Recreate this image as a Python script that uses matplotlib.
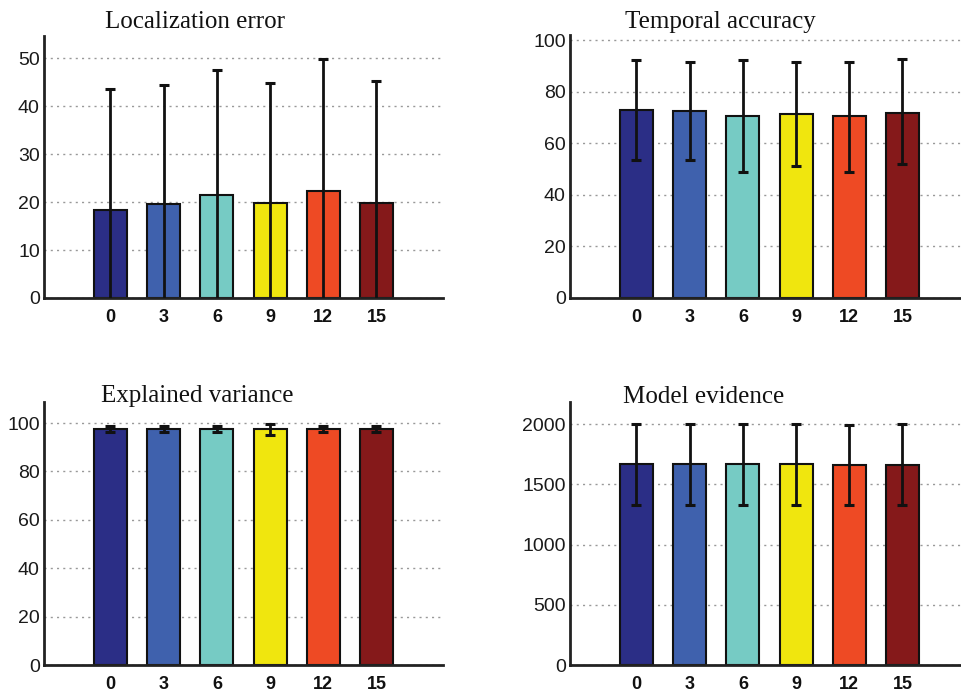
import matplotlib
matplotlib.use("Agg")
import matplotlib.pyplot as plt
import numpy as np

categories = ["0", "3", "6", "9", "12", "15"]
colors = ["#2b2e86", "#3f61ad", "#76cbc4", "#f0e60e", "#ee4a24", "#85191a"]

loc_vals = [18.4, 19.6, 21.5, 19.8, 22.4, 19.8]
loc_err = [25.1, 24.7, 26.1, 25.0, 27.5, 25.5]

temp_vals = [73.1, 72.6, 70.6, 71.3, 70.6, 71.9]
temp_err_lo = [19.7, 19.2, 21.7, 20.1, 21.7, 20.1]
temp_err_hi = [19.1, 18.9, 21.6, 20.4, 21.1, 20.9]

var_vals = [97.5, 97.4, 97.5, 97.4, 97.5, 97.5]
var_err = [1.3, 1.3, 1.3, 2.2, 1.3, 1.3]

ev_vals = [1668, 1668, 1668, 1668, 1660, 1660]
ev_err_lo = [335, 335, 335, 335, 327, 327]
ev_err_hi = [332, 332, 332, 332, 332, 340]

titles = ["Localization error", "Temporal accuracy", "Explained variance", "Model evidence"]

W, H = 962, 694
fig = plt.figure(figsize=(W / 100, H / 100), dpi=100)

def px_axes(x0, y_bottom, y_top, width=399):
    return fig.add_axes([x0 / W, 1 - y_bottom / H, width / W, (y_bottom - y_top) / H])

panels = [
    dict(ax=px_axes(44, 298, 36), vals=loc_vals, err=[loc_err, loc_err], ylim=54.6,
         yticks=[0, 10, 20, 30, 40, 50], title=titles[0], tpos=(195, 28)),
    dict(ax=px_axes(570, 298, 35), vals=temp_vals, err=[temp_err_lo, temp_err_hi], ylim=102,
         yticks=[0, 20, 40, 60, 80, 100], title=titles[1], tpos=(720, 28)),
    dict(ax=px_axes(44, 665, 402), vals=var_vals, err=[var_err, var_err], ylim=108.7,
         yticks=[0, 20, 40, 60, 80, 100], title=titles[2], tpos=(197, 402)),
    dict(ax=px_axes(570, 665, 402), vals=ev_vals, err=[ev_err_lo, ev_err_hi], ylim=2185,
         yticks=[0, 500, 1000, 1500, 2000], title=titles[3], tpos=(704, 403)),
]

x = np.arange(1, len(categories) + 1)
for p in panels:
    ax = p["ax"]
    ax.bar(x, p["vals"], width=0.62, color=colors, edgecolor="#111111", linewidth=1.5, zorder=2)
    ax.errorbar(x, p["vals"], yerr=p["err"], fmt="none", ecolor="#111111", elinewidth=2,
                capsize=3.5, capthick=2.2, zorder=3)
    ax.set_xlim(-0.25, 7.25)
    ax.set_ylim(0, p["ylim"])
    ax.set_xticks(x)
    ax.set_xticklabels(categories, fontsize=13, fontweight="bold", family="Liberation Sans",
                       color="#111111")
    ax.set_yticks(p["yticks"])
    ax.set_yticklabels([str(v) for v in p["yticks"]], fontsize=14, family="Liberation Sans",
                       color="#1a1a1a")
    ax.tick_params(axis="both", length=0)
    ax.tick_params(axis="x", pad=8)
    ax.tick_params(axis="y", pad=3)
    for s in ["top", "right"]:
        ax.spines[s].set_visible(False)
    for s in ["left", "bottom"]:
        ax.spines[s].set_linewidth(2)
        ax.spines[s].set_color("#222222")
    ax.yaxis.grid(True, linestyle=(0, (1.5, 3)), color="#999999", linewidth=1)
    ax.set_axisbelow(True)
    ax.patch.set_alpha(0)
    fig.text(p["tpos"][0] / W, 1 - p["tpos"][1] / H, p["title"], ha="center", va="baseline",
             fontsize=18, family="Liberation Serif", color="#111111")

fig.savefig("out.png", dpi=100)
